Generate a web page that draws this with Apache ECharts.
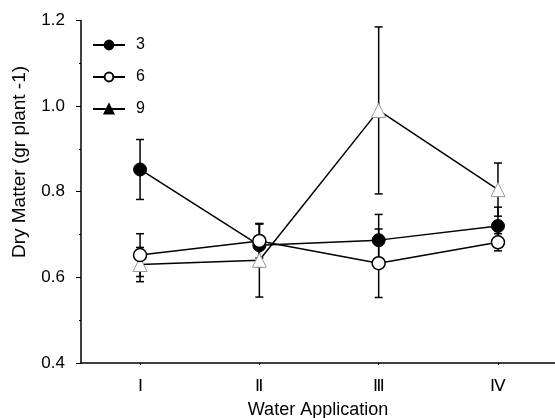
<!DOCTYPE html>
<html>
<head>
<meta charset="utf-8">
<script src="https://cdn.jsdelivr.net/npm/echarts@6/dist/echarts.min.js"></script>
<style>
  html, body { margin: 0; padding: 0; background: #fff; }
  #chart { width: 555px; height: 418px; }
</style>
</head>
<body>
<div id="chart"></div>
<script>
// categories on the x axis (positions 1..4)
const waterLevels = ['Ⅰ', 'Ⅱ', 'Ⅲ', 'Ⅳ'];
const xPos = [1, 2, 3, 4];

// mean dry matter per series
const dm3 = [0.852, 0.675, 0.687, 0.720];
const dm6 = [0.652, 0.685, 0.633, 0.682];
const dm9 = [0.630, 0.640, 0.990, 0.805];

// standard error per series
const se3 = [0.070, 0.050, 0.060, 0.044];
const se6 = [0.050, 0.040, 0.080, 0.020];
const se9 = [0.040, 0.086, 0.195, 0.062];

const yTicks = [0.4, 0.6, 0.8, 1.0, 1.2];

const font = 'Liberation Sans, Arial, sans-serif';

function points(vals) {
  return vals.map((v, i) => [xPos[i], v]);
}
function bars(vals, errs) {
  return vals.map((v, i) => [xPos[i], v - errs[i], v + errs[i]]);
}

function errorSeries(vals, errs) {
  return {
    type: 'custom',
    z: 1,
    silent: true,
    data: bars(vals, errs),
    renderItem: function (params, api) {
      const lo = api.coord([api.value(0), api.value(1)]);
      const hi = api.coord([api.value(0), api.value(2)]);
      const w = 4;
      const style = { stroke: '#000', lineWidth: 1.5 };
      return {
        type: 'group',
        children: [
          { type: 'line', shape: { x1: lo[0], y1: lo[1], x2: hi[0], y2: hi[1] }, style: style },
          { type: 'line', shape: { x1: lo[0] - w, y1: lo[1], x2: lo[0] + w, y2: lo[1] }, style: style },
          { type: 'line', shape: { x1: hi[0] - w, y1: hi[1], x2: hi[0] + w, y2: hi[1] }, style: style }
        ]
      };
    }
  };
}

const chart = echarts.init(document.getElementById('chart'));

chart.setOption({
  animation: false,
  grid: { left: 81, right: 0, top: 20.5, bottom: 55, outerBoundsMode: 'none' },
  legend: {
    orient: 'vertical',
    left: 87,
    top: 32,
    itemWidth: 32,
    itemHeight: 11,
    itemGap: 16,
    textStyle: { fontFamily: font, fontSize: 16, color: '#000', padding: [0, 0, 0, 6] },
    data: [
      { name: '3' },
      { name: '6' },
      { name: '9', itemStyle: { color: '#000', borderColor: '#000' } }
    ]
  },
  xAxis: {
    type: 'value',
    min: 0.505,
    max: 4.478,
    name: 'Water Application',
    nameLocation: 'middle',
    nameGap: 38,
    nameTextStyle: { fontFamily: font, fontSize: 18, color: '#000' },
    axisLine: { lineStyle: { color: '#000', width: 1.5 } },
    axisTick: { show: true, length: 2, customValues: xPos, lineStyle: { color: '#000' } },
    axisLabel: {
      customValues: xPos,
      margin: 15,
      fontFamily: font,
      fontSize: 17,
      color: '#000',
      formatter: function (v) { return waterLevels[Math.round(v) - 1]; }
    },
    splitLine: { show: false }
  },
  yAxis: {
    type: 'value',
    min: 0.4,
    max: 1.2,
    interval: 0.2,
    axisLine: { show: true, lineStyle: { color: '#000', width: 1.5 } },
    axisTick: { show: true, length: 5, lineStyle: { color: '#000' } },
    minorTick: { show: true, splitNumber: 2, length: 2, lineStyle: { color: '#000' } },
    axisLabel: {
      margin: 16,
      fontFamily: font,
      fontSize: 17,
      color: '#000',
      formatter: function (v) { return yTicks.indexOf(+v.toFixed(1)) >= 0 ? v.toFixed(1) : ''; }
    },
    splitLine: { show: false }
  },
  graphic: [{
    type: 'text',
    x: 20,
    y: 162,
    rotation: Math.PI / 2,
    style: {
      text: 'Dry Matter (gr plant -1)',
      fontFamily: font,
      fontSize: 19,
      fill: '#000',
      align: 'center',
      verticalAlign: 'middle'
    }
  }],
  series: [
    errorSeries(dm9, se9),
    errorSeries(dm6, se6),
    errorSeries(dm3, se3),
    {
      name: '3',
      type: 'line',
      z: 3,
      data: points(dm3),
      symbol: 'circle',
      symbolSize: 13,
      itemStyle: { color: '#000', borderColor: '#000', borderWidth: 1 },
      lineStyle: { color: '#000', width: 1.5 }
    },
    {
      name: '9',
      type: 'line',
      z: 4,
      data: points(dm9),
      symbol: 'triangle',
      symbolSize: 14,
      itemStyle: { color: '#fff', borderColor: '#999', borderWidth: 1 },
      lineStyle: { color: '#000', width: 1.5 }
    },
    {
      name: '6',
      type: 'line',
      z: 5,
      data: points(dm6),
      symbol: 'circle',
      symbolSize: 13,
      itemStyle: { color: '#fff', borderColor: '#000', borderWidth: 1.5 },
      lineStyle: { color: '#000', width: 1.5 }
    }
  ]
});
</script>
</body>
</html>
